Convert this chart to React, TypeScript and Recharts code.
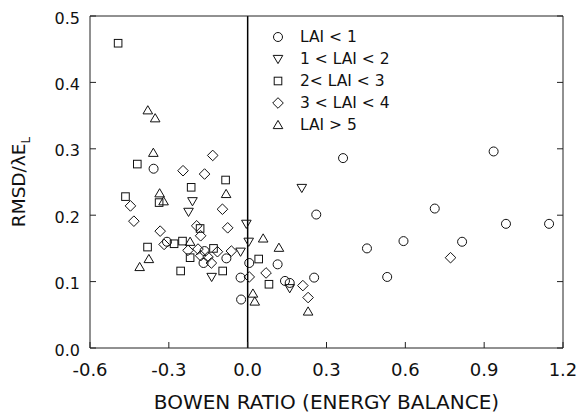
import React from 'react';
import { ScatterChart, Scatter, XAxis, YAxis, ReferenceLine, Legend } from 'recharts';

const xTicks = [-0.6, -0.3, 0, 0.3, 0.6, 0.9, 1.2];
const yTicks = [0, 0.1, 0.2, 0.3, 0.4, 0.5];

const laiLt1: [number, number][] = [
  [-0.358, 0.270], [-0.307, 0.160], [-0.164, 0.146], [-0.168, 0.128], [-0.081, 0.135],
  [-0.027, 0.106], [0.006, 0.128], [-0.025, 0.073], [0.114, 0.126], [0.142, 0.101],
  [0.160, 0.098], [0.253, 0.106], [0.261, 0.201], [0.363, 0.286], [0.454, 0.150],
  [0.531, 0.107], [0.593, 0.161], [0.712, 0.210], [0.816, 0.160], [0.936, 0.296],
  [0.983, 0.187], [1.147, 0.187],
];
const lai1to2: [number, number][] = [
  [-0.210, 0.221], [-0.225, 0.205], [-0.005, 0.187], [0.004, 0.160], [-0.027, 0.145],
  [-0.137, 0.107], [0.160, 0.090], [0.206, 0.241],
];
const lai2to3: [number, number][] = [
  [-0.493, 0.459], [-0.420, 0.277], [-0.465, 0.228], [-0.215, 0.242], [-0.084, 0.253],
  [-0.337, 0.219], [-0.181, 0.180], [-0.381, 0.152], [-0.280, 0.157], [-0.248, 0.161],
  [-0.219, 0.136], [-0.130, 0.150], [-0.255, 0.116], [-0.095, 0.116], [0.042, 0.134],
  [0.081, 0.096],
];
const lai3to4: [number, number][] = [
  [-0.133, 0.290], [-0.246, 0.267], [-0.164, 0.262], [-0.446, 0.214], [-0.096, 0.209],
  [-0.433, 0.191], [-0.194, 0.184], [-0.179, 0.169], [-0.076, 0.181], [-0.333, 0.176],
  [-0.318, 0.156], [-0.227, 0.147], [-0.189, 0.149], [-0.179, 0.139], [-0.151, 0.137],
  [-0.138, 0.128], [-0.115, 0.145], [-0.062, 0.146], [0.006, 0.107], [0.070, 0.113],
  [0.210, 0.094], [0.230, 0.076], [0.772, 0.136],
];
const laiGt5: [number, number][] = [
  [-0.380, 0.358], [-0.352, 0.346], [-0.359, 0.294], [-0.335, 0.233], [-0.320, 0.221],
  [-0.082, 0.232], [-0.376, 0.134], [-0.411, 0.122], [-0.219, 0.160], [0.059, 0.165],
  [0.119, 0.151], [0.020, 0.082], [0.027, 0.070], [0.230, 0.055],
];

const seriesNames = ['LAI < 1', '1 < LAI < 2', '2< LAI < 3', '3 < LAI < 4', 'LAI > 5'];
const seriesKinds = ['circle', 'down', 'square', 'diamond', 'up'];
const seriesData = [laiLt1, lai1to2, lai2to3, lai3to4, laiGt5];

const FONT = '"DejaVu Sans", "Liberation Sans", sans-serif';
const INK = '#111';

function Marker({ kind, cx, cy }: { kind: string; cx: number; cy: number }) {
  const common = { fill: 'none', stroke: INK, strokeWidth: 1 };
  if (kind === 'circle') return <circle cx={cx} cy={cy} r={4.5} {...common} />;
  if (kind === 'square') return <rect x={cx - 3.8} y={cy - 3.8} width={7.6} height={7.6} {...common} />;
  if (kind === 'diamond')
    return <polygon points={`${cx},${cy - 5.3} ${cx + 5.3},${cy} ${cx},${cy + 5.3} ${cx - 5.3},${cy}`} {...common} />;
  if (kind === 'down')
    return <polygon points={`${cx - 4.8},${cy - 3.6} ${cx + 4.8},${cy - 3.6} ${cx},${cy + 4.6}`} {...common} />;
  return <polygon points={`${cx},${cy - 4.6} ${cx + 4.8},${cy + 3.6} ${cx - 4.8},${cy + 3.6}`} {...common} />;
}

function YTitle(props: any) {
  const vb = props.viewBox || { x: 0, y: 16, width: 90, height: 332 };
  const bx = vb.x + 25;
  const cy = vb.y + vb.height / 2;
  return (
    <text
      x={bx}
      y={cy}
      transform={`rotate(-90 ${bx} ${cy})`}
      textAnchor="middle"
      fill={INK}
      fontSize={18.5}
      fontFamily={FONT}
    >
      RMSD/λE
      <tspan dy={5} fontSize={12}>L</tspan>
    </text>
  );
}

function LegendBox() {
  return (
    <div style={{ fontFamily: FONT, fontSize: 15.5, color: INK }}>
      {seriesNames.map((name, i) => (
        <div key={name} style={{ display: 'flex', alignItems: 'center', height: 22 }}>
          <svg width={14} height={14} style={{ display: 'block' }}>
            <Marker kind={seriesKinds[i]} cx={7} cy={7} />
          </svg>
          <span style={{ marginLeft: 15, whiteSpace: 'nowrap', lineHeight: '22px' }}>{name}</span>
        </div>
      ))}
    </div>
  );
}

export default function App() {
  const fmt = (v: number) => v.toFixed(1);
  return (
    <div style={{ position: 'absolute', left: 0, top: 0, background: '#fff' }}>
      <ScatterChart width={581} height={417} margin={{ top: 0, right: 0, bottom: 0, left: 0 }}>
        <XAxis
          xAxisId="b"
          type="number"
          dataKey="x"
          domain={[-0.6, 1.2]}
          ticks={xTicks}
          interval={0}
          allowDataOverflow
          tickFormatter={fmt}
          height={69}
          tickSize={-6}
          tickMargin={21}
          stroke="#222"
          tick={{ fill: INK, fontSize: 18, fontFamily: FONT }}
          label={{ value: 'BOWEN RATIO (ENERGY BALANCE)', position: 'insideBottom', offset: 8, fill: INK, fontSize: 20, fontFamily: FONT }}
        />
        <XAxis
          xAxisId="t"
          orientation="top"
          type="number"
          domain={[-0.6, 1.2]}
          ticks={xTicks}
          interval={0}
          allowDataOverflow
          tickFormatter={() => ''}
          height={16}
          tickSize={-6}
          stroke="#222"
        />
        <YAxis
          yAxisId="l"
          type="number"
          dataKey="y"
          domain={[0, 0.5]}
          ticks={yTicks}
          interval={0}
          allowDataOverflow
          tickFormatter={fmt}
          width={90}
          tickSize={-6}
          tickMargin={16}
          stroke="#222"
          tick={{ fill: INK, fontSize: 16, fontFamily: FONT, dy: 2 }}
          label={<YTitle />}
        />
        <YAxis
          yAxisId="r"
          orientation="right"
          type="number"
          domain={[0, 0.5]}
          ticks={yTicks}
          interval={0}
          allowDataOverflow
          tickFormatter={() => ''}
          width={18}
          tickSize={-6}
          stroke="#222"
        />
        <ReferenceLine xAxisId="b" yAxisId="l" x={0} stroke="#000" strokeWidth={1.5} />
        {seriesData.map((pts, i) => (
          <Scatter
            key={seriesNames[i]}
            name={seriesNames[i]}
            xAxisId="b"
            yAxisId="l"
            data={pts.map(([x, y]) => ({ x, y }))}
            isAnimationActive={false}
            shape={(p: any) => <Marker kind={seriesKinds[i]} cx={p.cx} cy={p.cy} />}
          />
        ))}
        <Legend
          layout="vertical"
          align="center"
          verticalAlign="middle"
          content={() => <LegendBox />}
          wrapperStyle={{ position: 'absolute', left: 271, top: 26, width: 170, height: 110 }}
        />
      </ScatterChart>
    </div>
  );
}
